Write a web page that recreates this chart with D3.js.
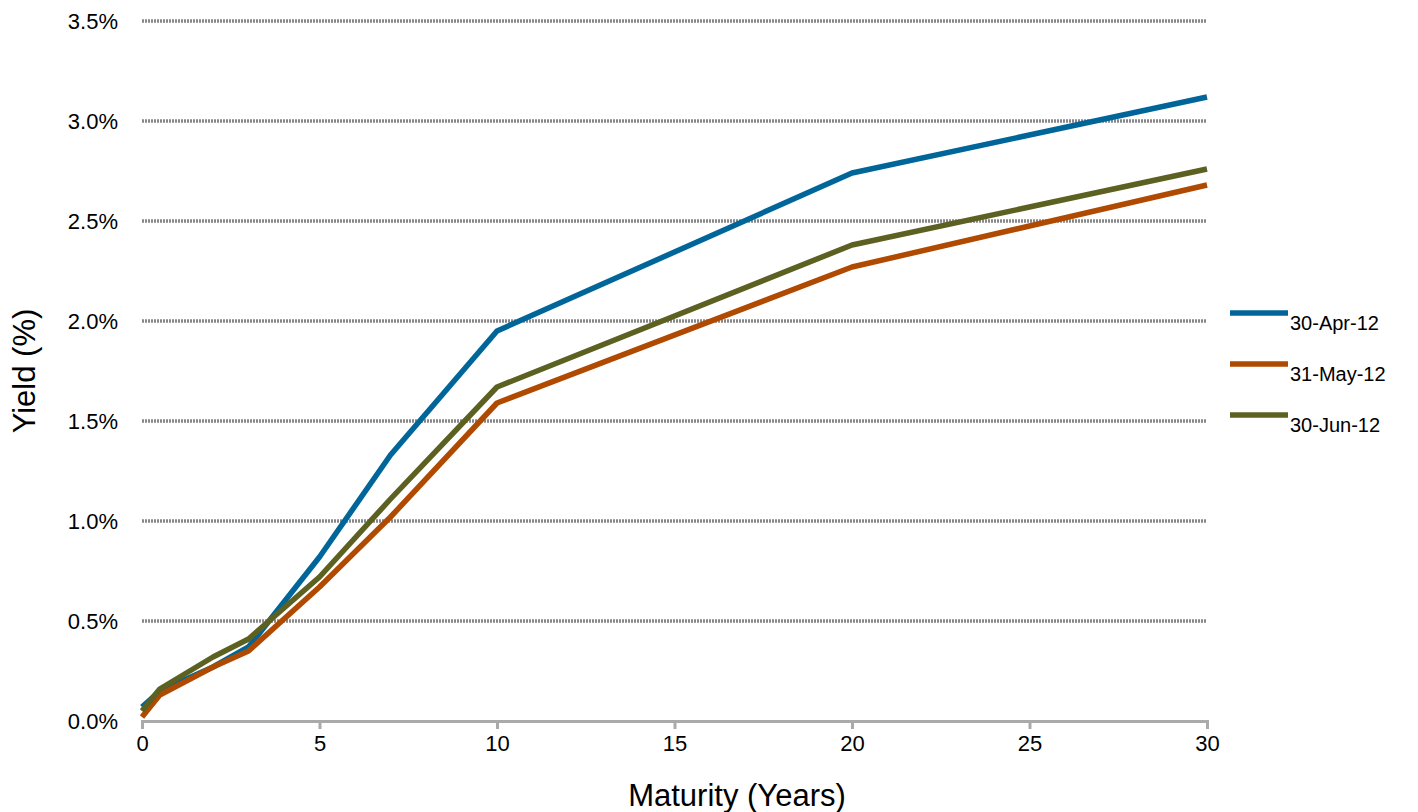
<!DOCTYPE html>
<html><head><meta charset="utf-8">
<script src="https://cdn.jsdelivr.net/npm/d3@7"></script>
<style>body{margin:0;background:#fff}text{font-family:"Liberation Sans",Arial,sans-serif}</style>
</head><body><svg id="c" width="1418" height="812"></svg>
<script>
const maturities = [0, 0.5, 2, 3, 5, 7, 10, 20, 30];
const apr12 = [0.07, 0.15, 0.27, 0.37, 0.82, 1.33, 1.95, 2.74, 3.12];
const may12 = [0.02, 0.13, 0.27, 0.35, 0.67, 1.02, 1.59, 2.27, 2.68];
const jun12 = [0.05, 0.16, 0.32, 0.41, 0.72, 1.11, 1.67, 2.38, 2.76];
const seriesNames = ['30-Apr-12', '31-May-12', '30-Jun-12'];
const colors = ['#00669a', '#b04a00', '#5c6122'];
const yTicks = [0, 0.5, 1, 1.5, 2, 2.5, 3, 3.5];
const xTicks = [0, 5, 10, 15, 20, 25, 30];

const svg = d3.select('#c');
const x = d3.scaleLinear().domain([0, 30]).range([142, 1207]);
const y = d3.scaleLinear().domain([0, 3.5]).range([721, 21]);

// gridlines
svg.selectAll('line.grid').data(yTicks.slice(1)).enter().append('line')
  .attr('x1', 142).attr('x2', 1207).attr('y1', d => y(d)).attr('y2', d => y(d))
  .attr('stroke', '#888').attr('stroke-width', 3.5).attr('stroke-dasharray', '2,1');

const xAxis = svg.append('g').attr('transform', 'translate(0,721)')
  .call(d3.axisBottom(x).tickValues(xTicks).tickSize(8).tickFormat(d3.format('d')));
xAxis.select('.domain').attr('stroke', '#aaa').attr('stroke-width', 3);
xAxis.selectAll('.tick line').attr('stroke', '#aaa').attr('stroke-width', 3);
xAxis.selectAll('text').attr('font-size', 22).attr('fill', '#000').attr('dy', '0.85em');

svg.selectAll('text.yl').data(yTicks).enter().append('text')
  .attr('x', 118).attr('y', d => y(d) + 8).attr('text-anchor', 'end')
  .attr('font-size', 22).text(d => d.toFixed(1) + '%');

svg.append('text').attr('x', 737).attr('y', 806).attr('text-anchor', 'middle')
  .attr('font-size', 31).text('Maturity (Years)');
svg.append('text').attr('transform', 'translate(35,371) rotate(-90)').attr('text-anchor', 'middle')
  .attr('font-size', 31).text('Yield (%)');

const line = d3.line().x((d, i) => x(maturities[i])).y(d => y(d));
[apr12, may12, jun12].forEach((s, k) => {
  svg.append('path').attr('d', line(s)).attr('fill', 'none')
    .attr('stroke', colors[k]).attr('stroke-width', 5.5).attr('stroke-linejoin', 'round');
  const ly = 313 + k * 51;
  svg.append('line').attr('x1', 1230).attr('x2', 1288).attr('y1', ly).attr('y2', ly)
    .attr('stroke', colors[k]).attr('stroke-width', 5.5);
  svg.append('text').attr('x', 1290).attr('y', ly + 17).attr('font-size', 20).text(seriesNames[k]);
});
</script></body></html>
